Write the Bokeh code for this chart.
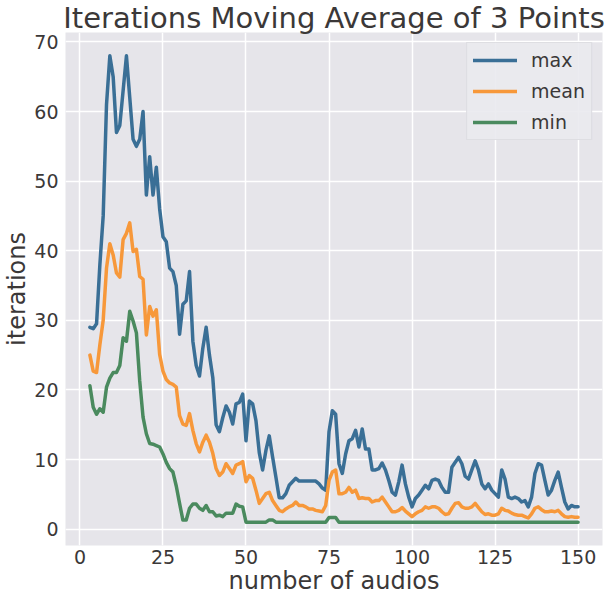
from bokeh.plotting import figure
from bokeh.models import Range1d, FixedTicker, Legend, LegendItem
from bokeh.embed import file_html
from bokeh.resources import INLINE

x_start = 3
max_vals = [29.0, 28.8, 29.5, 38, 45, 61, 68, 65, 57, 58, 63, 68, 62, 56, 55, 56, 60, 48, 53.5, 48,
            52, 46, 42, 41.3, 37.5, 37, 35, 28, 32.3, 32.8, 37, 27, 23.5, 22, 26, 29, 25, 21.8, 15, 14,
            16, 17.7, 16.8, 15.1, 18, 18.2, 19.4, 12.7, 18.4, 18, 15.6, 11, 8.5, 11.3, 13.4, 10.4, 7.5, 4.5, 4.5, 5.1,
            6.3, 6.8, 7.3, 6.9, 6.9, 6.9, 6.9, 6.9, 6.9, 6.5, 5.9, 5.6, 14, 17, 16.5, 9.4, 8, 10.8, 12.7, 13,
            14.2, 11.8, 14.4, 11.5, 11.5, 8.5, 8.5, 8.7, 9.5, 8.5, 7.0, 5.3, 4.9, 6.8, 9.2, 6.5, 4.6, 3.2, 4.4, 4.9,
            5.6, 6.3, 5.8, 7.0, 7.2, 7.0, 6.0, 5.3, 5.3, 8.9, 9.6, 10.3, 9.4, 7.6, 7.2, 8.5, 9.8, 8.5, 6.5, 5.8,
            6.5, 5.6, 5.1, 4.6, 8.5, 7.2, 4.6, 4.4, 4.6, 4.4, 3.9, 4.1, 3.2, 4.6, 8.0, 9.4, 9.2, 7.0, 4.9, 5.6,
            7.0, 8.2, 6.0, 3.9, 2.9, 3.4, 3.2, 3.2]
mean_vals = [25.0, 22.7, 22.5, 26.5, 30, 37.5, 41, 39.4, 36.8, 36.2, 41.6, 42.5, 44, 39.9, 40.2, 36.3, 35.9, 27.9, 32, 30.6,
             31.5, 25.1, 22.7, 21.5, 21.0, 20.8, 20.4, 16.3, 15.1, 14.9, 16.6, 14.2, 12.3, 11.1, 12.5, 13.5, 12.5, 10.9, 8.7, 7.7,
             8.2, 9.4, 8.7, 8.0, 9.2, 9.4, 9.7, 6.8, 7.7, 7.3, 5.6, 3.7, 4.4, 5.1, 5.3, 4.1, 3.4, 2.7, 2.5, 2.9,
             3.2, 3.4, 3.9, 3.4, 3.4, 3.2, 2.9, 2.9, 2.7, 2.6, 2.5, 3.4, 7.0, 8.2, 8.5, 5.1, 5.1, 5.3, 6.0, 5.3,
             5.6, 4.4, 4.5, 4.4, 4.4, 3.9, 4.1, 4.1, 4.6, 3.9, 3.2, 2.5, 2.5, 2.7, 3.1, 2.6, 2.2, 1.8, 2.2, 2.5,
             2.7, 3.2, 3.0, 3.2, 3.2, 3.0, 2.5, 2.1, 2.2, 3.0, 3.7, 3.8, 3.2, 3.0, 3.0, 3.2, 3.7, 3.1, 2.5, 2.1,
             2.2, 2.0, 2.0, 2.2, 3.0, 2.7, 2.6, 2.3, 2.1, 2.0, 2.0, 1.8, 1.6, 2.2, 3.0, 3.2, 2.8, 2.5, 2.5, 2.6,
             2.5, 2.7, 2.2, 1.8, 1.7, 1.8, 1.7, 1.7]
min_vals = [20.6, 17.5, 16.5, 17.3, 16.8, 20.4, 21.7, 22.5, 22.5, 23.5, 27.5, 27, 31.3, 29.9, 28.2, 21.3, 16.1, 13.7, 12.3, 12.2,
            12.0, 11.8, 10.8, 9.6, 8.7, 8.2, 6.2, 3.7, 1.3, 1.3, 3.0, 3.6, 3.6, 3.0, 2.7, 3.4, 2.5, 2.5, 1.9, 2.0,
            1.8, 2.3, 2.3, 2.3, 3.6, 3.3, 3.2, 1.0, 1.0, 1.0, 1.0, 1.0, 1.0, 1.0, 1.33, 1.33, 1.0, 1.0, 1.0, 1.0,
            1.0, 1.0, 1.0, 1.0, 1.0, 1.0, 1.0, 1.0, 1.0, 1.0, 1.0, 1.0, 1.67, 1.67, 1.67, 1.0, 1.0, 1.0, 1.0, 1.0,
            1.0, 1.0, 1.0, 1.0, 1.0, 1.0, 1.0, 1.0, 1.0, 1.0, 1.0, 1.0, 1.0, 1.0, 1.0, 1.0, 1.0, 1.0, 1.0, 1.0,
            1.0, 1.0, 1.0, 1.0, 1.0, 1.0, 1.0, 1.0, 1.0, 1.0, 1.0, 1.0, 1.0, 1.0, 1.0, 1.0, 1.0, 1.0, 1.0, 1.0,
            1.0, 1.0, 1.0, 1.0, 1.0, 1.0, 1.0, 1.0, 1.0, 1.0, 1.0, 1.0, 1.0, 1.0, 1.0, 1.0, 1.0, 1.0, 1.0, 1.0,
            1.0, 1.0, 1.0, 1.0, 1.0, 1.0, 1.0, 1.0]
x_vals = list(range(x_start, x_start + len(max_vals)))

x_ticks = [0, 25, 50, 75, 100, 125, 150]
y_ticks = [0, 10, 20, 30, 40, 50, 60, 70]
series_names = ["max", "mean", "min"]
series_colors = ["#3A6F96", "#F7983A", "#4A8A5E"]

title_text = "Iterations Moving Average of 3 Points"
x_label = "number of audios"
y_label = "iterations"

FONT = "DejaVu Sans"
TXT = "#3b3838"
BG = "#E6E5EA"

all_y = max_vals + mean_vals + min_vals
ypad = (max(all_y) - min(all_y)) * 0.05
xpad = (x_vals[-1] - x_vals[0]) * 0.05
y0, y1 = min(all_y) - ypad, max(all_y) + ypad
x0, x1 = x_vals[0] - xpad, x_vals[-1] + xpad

p = figure(width=612, height=598, output_backend="svg", toolbar_location=None,
           x_range=Range1d(x0, x1), y_range=Range1d(y0, y1),
           min_border_left=63, min_border_right=10, min_border_top=30, min_border_bottom=53)
p.background_fill_color = BG
p.border_fill_color = "white"
p.outline_line_color = None

p.title.text = title_text
p.title.align = "center"
p.title.text_font = FONT
p.title.text_font_size = "29px"
p.title.text_font_style = "normal"
p.title.text_color = TXT
p.title.standoff = -4

p.xgrid.grid_line_color = "white"
p.ygrid.grid_line_color = "white"
p.xgrid.grid_line_width = 1.5
p.ygrid.grid_line_width = 1.5

p.xaxis.ticker = FixedTicker(ticks=x_ticks)
p.yaxis.ticker = FixedTicker(ticks=y_ticks)
for ax in (p.xaxis[0], p.yaxis[0]):
    ax.axis_line_color = None
    ax.major_tick_line_color = None
    ax.minor_tick_line_color = None
    ax.major_tick_out = 0
    ax.major_tick_in = 0
    ax.major_label_text_font = FONT
    ax.major_label_text_font_size = "19px"
    ax.major_label_text_color = TXT
    ax.axis_label_text_font = FONT
    ax.axis_label_text_font_size = "24px"
    ax.axis_label_text_font_style = "normal"
    ax.axis_label_text_color = TXT
    ax.axis_label_standoff = 0
p.xaxis.major_label_standoff = 4
p.yaxis.major_label_standoff = 7
p.xaxis.axis_label = x_label
p.yaxis.axis_label = y_label

series = [max_vals, mean_vals, min_vals]
items = []
for name, vals, col in zip(series_names, series, series_colors):
    r = p.line(x_vals, vals, line_color=col, line_width=3.5, line_join="round", line_cap="round")
    items.append(LegendItem(label=name, renderers=[r]))

legend = Legend(items=items, location="top_right")
legend.margin = 10
legend.padding = 6
legend.spacing = 9
legend.glyph_width = 44
legend.glyph_height = 22
legend.label_height = 22
legend.label_standoff = 14
legend.label_text_font = FONT
legend.label_text_font_size = "19px"
legend.label_text_color = TXT
legend.background_fill_color = "#EAEAEE"
legend.background_fill_alpha = 0.9
legend.border_line_color = "#D2D2D6"
legend.border_line_width = 1
p.add_layout(legend)

open("out.html", "w").write(file_html(p, INLINE))
